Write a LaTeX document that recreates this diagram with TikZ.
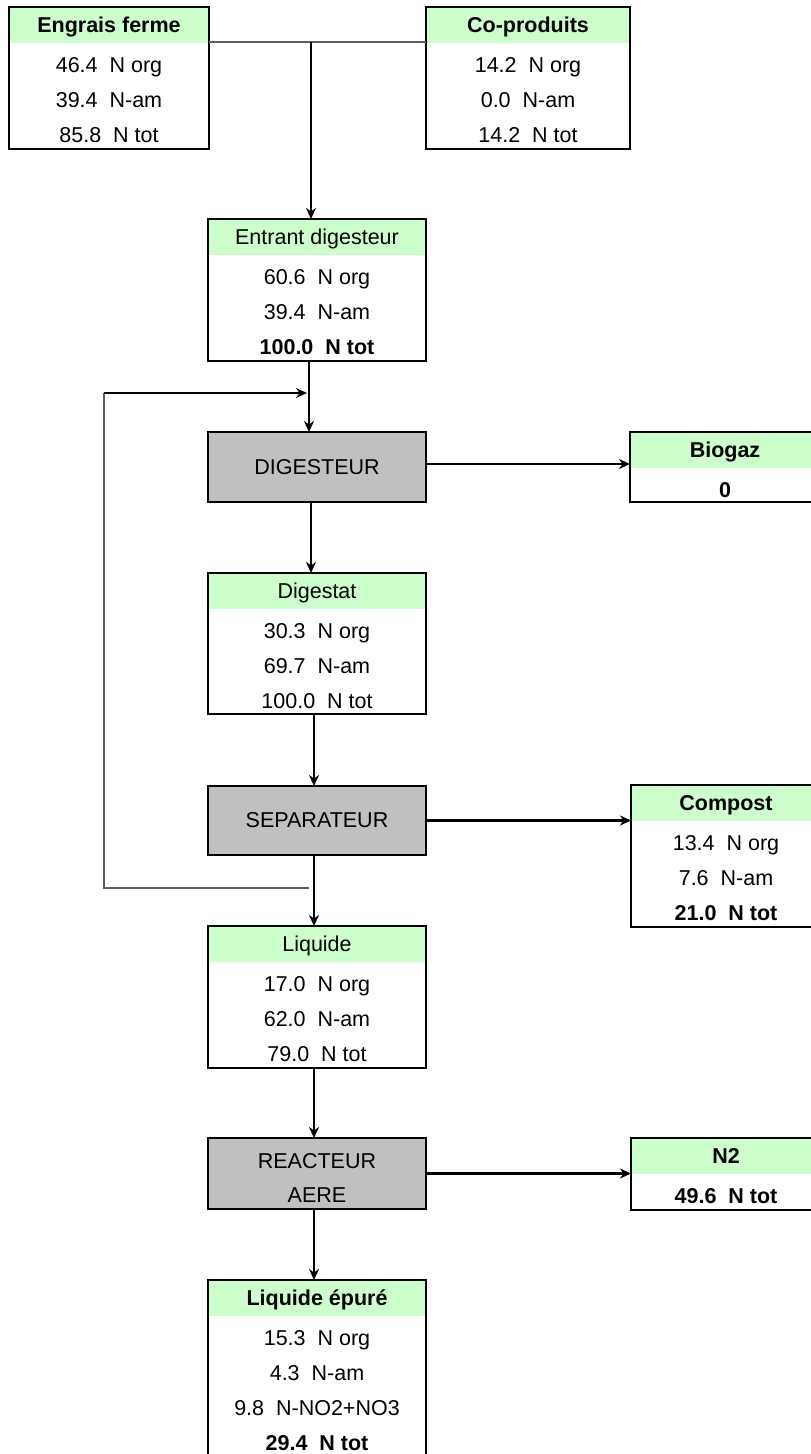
\documentclass[tikz,border=0pt]{standalone}
\usepackage{fontspec}
\setmainfont{Liberation Sans}
\usetikzlibrary{arrows.meta,calc}
\definecolor{hdrgreen}{HTML}{CCFFCC}
\definecolor{procgray}{HTML}{C0C0C0}
\definecolor{linegray}{HTML}{606060}
\newcommand\mainsize{\fontsize{21.5}{34}\selectfont}
\tikzset{
  frame/.style={rectangle, draw=black, line width=2.9pt, minimum width=218pt, inner sep=0pt, outer sep=0pt},
  databox/.style={frame, fill=white, path picture={\fill[hdrgreen] (path picture bounding box.north west) rectangle ([yshift=-36pt]path picture bounding box.north east);}},
  procbox/.style={frame, fill=procgray, minimum height=70pt, align=center, font=\mainsize},
  txt/.style={inner sep=0pt, outer sep=0pt, font=\mainsize, anchor=base},
  arr/.style={line width=2.4pt, draw=black, -{Stealth[length=11pt,width=10pt,inset=3.5pt]}},
  thinline/.style={line width=1.4pt, draw=linegray},
}
% #1 name, #2 left x, #3 top y, #4 width, #5 height, #6 header, #7 rows
\newcommand\mkbox[7]{%
  \node[databox, minimum width=#4pt, minimum height=#5pt, anchor=north west] (#1) at (#2,#3) {};
  \node[txt] (#1-h) at ([yshift=-25.7pt]#1.north) {#6};
  \foreach \r [count=\i] in {#7} {%
    \node[txt] (#1-\i) at ([yshift={-65.2pt-35pt*(\i-1)}]#1.north) {\r};
  }%
}
\begin{document}
\begin{tikzpicture}[x=1pt,y=-1pt]
\useasboundingbox (0,0) rectangle (811,1454);

% top input boxes
\mkbox{eng}{9}{7}{200}{142}{\textbf{Engrais ferme}}{46.4\ \ N org,39.4\ \ N-am,85.8\ \ N tot}
\mkbox{cop}{426}{7}{204}{142}{\textbf{Co-produits}}{14.2\ \ N org,0.0\ \ N-am,14.2\ \ N tot}

% main column
\mkbox{ent}{208}{219}{218}{142}{Entrant digesteur}{60.6\ \ N org,39.4\ \ N-am,\textbf{100.0\ \ N tot}}
\node[procbox, anchor=north west] (dig) at (208,432) {DIGESTEUR};
\mkbox{dgs}{208}{573}{218}{141}{Digestat}{30.3\ \ N org,69.7\ \ N-am,100.0\ \ N tot}
\node[procbox, anchor=north west, minimum height=69pt] (sep) at (208,786) {SEPARATEUR};
\mkbox{liq}{208}{926}{218}{142}{Liquide}{17.0\ \ N org,62.0\ \ N-am,79.0\ \ N tot}
\node[procbox, anchor=north west, minimum height=71pt] (rea) at (208,1138) {};
\node[inner sep=0pt, align=center, font=\mainsize] (rea-t) at ([yshift=-4pt]rea.center) {REACTEUR\\AERE};
\mkbox{epu}{208}{1280}{218}{178}{\textbf{Liquide épuré}}{15.3\ \ N org,4.3\ \ N-am,9.8\ \ N-NO2+NO3,\textbf{29.4\ \ N tot}}

% right outputs
\mkbox{bio}{630}{432}{190}{70}{\textbf{Biogaz}}{\textbf{0}}
\mkbox{com}{631}{785}{190}{142}{\textbf{Compost}}{13.4\ \ N org,7.6\ \ N-am,\textbf{21.0\ \ N tot}}
\mkbox{ntwo}{631}{1138}{190}{72}{\textbf{N2}}{\textbf{49.6\ \ N tot}}

% top junction
\coordinate (junc) at (311,42);
\draw[thinline] ([yshift=-35pt]eng.north east) -- ([yshift=-35pt]cop.north west);
\draw[arr] (junc) -- (junc |- ent.north);

% vertical flow
\draw[arr] ([xshift=-8pt]ent.south) -- ([xshift=-8pt]dig.north);
\draw[arr] ([xshift=-6pt]dig.south) -- ([xshift=-6pt]dgs.north);
\draw[arr] ([xshift=-3pt]dgs.south) -- ([xshift=-3pt]sep.north);
\draw[arr] ([xshift=-3pt]sep.south) -- ([xshift=-3pt]liq.north);
\draw[arr] ([xshift=-3pt]liq.south) -- ([xshift=-3pt]rea.north);
\draw[arr] ([xshift=-3pt]rea.south) -- ([xshift=-3pt]epu.north);

% outputs to the right
\draw[arr] ([yshift=3pt]dig.east) -- ([yshift=3pt]bio.west);
\draw[arr] (sep.east) -- (sep.east -| com.west);
\draw[arr] (rea.east) -- (rea.east -| ntwo.west);

% recirculation loop
\coordinate (fbA) at (309,888);
\coordinate (fbB) at (104,393);
\coordinate (fbC) at (307,393);
\draw[thinline] (fbA) -| (fbB);
\draw[arr] (fbB) -- (fbC);
\end{tikzpicture}
\end{document}
